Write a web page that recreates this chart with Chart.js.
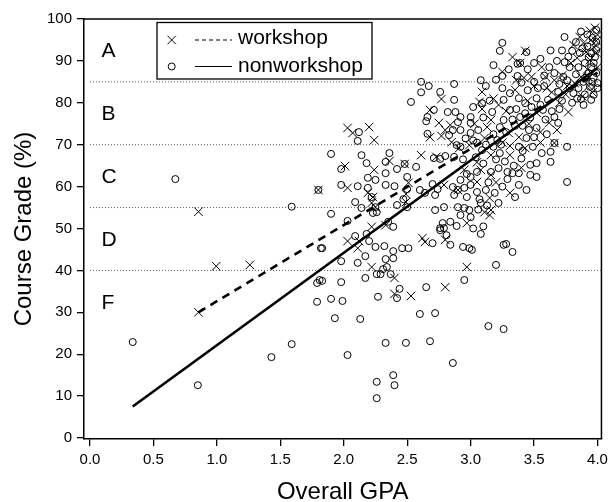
<!DOCTYPE html>
<html>
<head>
<meta charset="utf-8">
<script src="https://cdn.jsdelivr.net/npm/chart.js@4"></script>
<style>
html,body{margin:0;padding:0;background:#fff;}
#wrap{width:613px;height:502px;position:relative;}
</style>
</head>
<body>
<div id="wrap"><canvas id="c"></canvas></div>
<script>
// ---------- DATA ----------
const xTickValues = [0.0,0.5,1.0,1.5,2.0,2.5,3.0,3.5,4.0];
const yTickValues = [0,10,20,30,40,50,60,70,80,90,100];
const gradeCutoffs = [85,70,55,40];
const gradeLetters = ['A','B','C','D','F'];
const seriesNames = ['workshop','nonworkshop'];

// [GPA, course grade %]
const workshopPoints = [
[0.855,30],[0.855,54],[0.995,41],[1.26,41.3],[1.80,59.2],[2.77,80.9],[2.68,78.3],[2.75,75.2],[2.84,74.7],[2.80,73.5],
[2.68,71.8],[2.77,72.1],[2.03,74.0],[2.07,72.8],[2.20,74.2],[2.24,71.1],[2.85,70.6],[2.36,66.1],[2.61,67.5],[2.73,67.1],
[2.91,69.2],[2.48,65.4],[2.01,64.9],[2.24,64.0],[2.03,59.7],[2.51,60.9],[2.19,58.5],[2.79,60.4],[2.90,59.2],[2.23,57.5],
[2.49,58.2],[2.22,56.1],[2.25,55.1],[2.49,56.3],[2.22,50.4],[2.33,50.8],[2.03,47.0],[2.12,47.0],[2.11,45.3],[2.22,40.8],
[2.40,38.2],[2.40,34.4],[2.53,33.9],[2.80,36.0],[2.62,47.7],[2.64,46.8],[2.80,47.3],[2.97,40.8],[2.97,51.3],[3.15,53.2],
[3.33,90.9],[3.43,92.4],[3.39,89.5],[3.56,88.5],[3.25,87.4],[3.36,85.4],[3.48,86.2],[3.59,86.2],[3.66,85.4],[3.81,93.8],
[3.86,95.7],[3.89,94.3],[3.09,82.6],[3.35,83.1],[3.07,80.2],[3.60,83.5],[3.09,78.5],[3.16,75.9],[3.52,77.6],[3.62,75.2],
[3.77,77.8],[3.13,74.2],[3.30,72.8],[3.38,71.8],[3.11,71.6],[3.66,70.4],[3.43,69.2],[3.31,69.7],[2.99,69.9],[3.16,67.5],
[3.31,67.5],[3.16,62.8],[3.05,61.1],[3.31,58.5],[3.15,57.3],[3.11,53.9],[3.16,54.4],[3.87,86.2],[3.94,90.2],[3.97,93.3],
[4.00,96.2],[3.98,97.9],[3.84,90.7],[3.91,92.1],[4.00,88.5],[3.82,84.7],[3.95,95.0],[3.99,92.0],[3.93,84.0],[3.75,82.0],
[3.70,80.0],[3.45,80.5],[3.28,78.0],[3.55,73.0],[3.05,65.8],[2.95,64.0],[3.40,64.5],
[3.03,75.0],[3.18,81.0],[3.22,79.5],[3.42,86.0],[3.50,84.0],[3.64,82.5],[3.72,86.5],[3.79,89.5],[3.92,88.0],[3.96,82.5],
[3.88,81.5],[3.46,75.0],[3.25,70.5],[3.08,64.0],[3.20,61.0],[3.55,70.5],[3.68,73.5],[3.99,94.8],[3.94,97.2],[3.76,84.0]
];

const nonworkshopPoints = [
[0.337,22.9],[0.673,61.8],[0.85,12.6],[1.43,19.3],[1.59,55.2],[1.59,22.4],[1.80,59.2],[1.82,45.3],[1.79,37.0],[1.81,37.7],
[1.79,32.5],[2.61,85.0],[2.67,84.0],[2.61,82.5],[2.87,84.5],[2.76,82.6],[2.87,80.7],[2.53,80.2],[2.71,78.3],[2.82,77.8],
[2.88,77.8],[2.66,76.6],[2.65,75.6],[2.90,75.4],[2.86,73.5],[2.66,72.6],[2.83,72.3],[2.12,73.0],[2.11,70.9],[2.89,69.9],
[1.90,67.8],[2.14,67.5],[2.36,68.0],[2.33,65.9],[2.71,66.8],[2.80,67.3],[2.76,66.6],[2.87,67.1],[2.57,64.7],[2.48,65.4],
[2.42,64.2],[1.98,64.2],[2.18,65.6],[2.33,63.2],[2.19,62.1],[2.25,61.6],[2.50,62.3],[1.98,60.4],[2.11,60.1],[2.33,60.4],
[2.40,60.1],[2.50,59.4],[2.19,59.7],[2.60,59.2],[2.64,58.5],[2.70,60.6],[2.74,59.4],[2.86,59.9],[2.90,59.2],[2.87,58.0],
[2.22,57.5],[2.72,58.0],[2.47,57.0],[2.09,56.3],[2.14,54.9],[2.25,55.1],[2.42,55.6],[2.50,55.1],[2.23,53.7],[2.26,53.9],
[2.72,54.4],[2.79,55.1],[2.90,55.1],[1.90,53.5],[2.03,51.8],[2.35,51.6],[2.39,50.4],[2.78,51.3],[2.84,51.6],[2.89,50.6],
[2.76,50.1],[2.09,48.2],[2.18,48.7],[2.20,47.0],[2.25,45.6],[1.83,45.3],[2.32,45.8],[2.39,44.6],[2.46,45.3],[2.51,45.3],
[2.17,43.4],[2.39,42.9],[2.33,42.7],[1.98,42.2],[2.11,41.8],[2.34,40.8],[2.31,40.3],[2.26,39.1],[2.29,39.1],[2.37,39.1],
[2.17,38.2],[1.98,37.2],[1.83,37.5],[2.44,35.6],[2.42,33.4],[2.27,33.7],[2.65,36.0],[1.90,33.2],[1.99,32.7],[1.93,28.6],
[2.13,28.4],[2.60,29.6],[2.72,29.8],[2.33,22.7],[2.49,22.7],[2.68,23.1],[2.03,19.8],[2.86,17.9],[2.39,15.0],[2.26,13.4],
[2.40,12.6],[2.26,9.5],[2.70,46.5],[2.76,49.6],[2.79,50.1],[2.81,48.4],[2.84,46.1],[2.94,45.6],[3.08,48.7],[2.99,45.3],
[3.01,44.9],[3.26,46.1],[3.28,46.3],[3.33,44.4],[3.20,41.3],[2.95,37.7],[3.14,26.7],[3.26,26.0],[3.76,61.1],[3.74,95.7],
[3.25,94.3],[3.23,92.4],[3.44,92.1],[3.39,89.5],[3.37,89.3],[3.50,89.5],[3.25,86.4],[3.37,86.4],[3.08,85.4],[3.50,85.0],
[3.66,87.1],[3.74,89.7],[3.78,88.5],[3.73,86.2],[3.80,92.4],[3.25,83.5],[3.31,82.3],[3.09,79.9],[3.26,80.7],[3.38,81.1],
[3.43,79.9],[3.52,81.1],[3.61,80.7],[3.69,82.6],[3.00,76.6],[3.17,77.8],[3.31,78.3],[3.26,75.9],[3.39,76.6],[3.57,78.3],
[3.69,75.2],[3.66,76.6],[2.92,76.6],[3.00,75.2],[3.23,74.2],[2.92,73.5],[3.00,72.8],[3.46,73.5],[3.52,74.0],[3.44,71.6],
[3.50,71.8],[3.21,71.1],[3.66,70.4],[3.63,68.3],[3.76,69.5],[3.56,68.0],[3.38,69.5],[2.92,69.5],[3.09,68.7],[3.23,68.0],
[3.63,65.9],[3.47,65.2],[3.52,65.6],[3.47,62.8],[3.52,62.3],[3.38,63.2],[3.29,63.5],[3.33,63.2],[3.29,61.8],[3.38,60.4],
[3.44,59.2],[3.16,63.5],[3.22,64.4],[3.05,63.5],[3.00,62.3],[2.92,61.6],[2.95,59.7],[3.00,60.4],[3.12,59.2],[3.05,58.7],
[3.22,56.1],[3.08,56.1],[2.95,54.9],[2.99,54.4],[3.00,52.7],[2.92,53.2],[3.89,79.5],[3.87,80.9],[3.95,80.7],[3.97,81.9],
[3.94,83.8],[3.81,82.3],[3.85,83.5],[3.89,85.0],[3.93,87.1],[3.76,85.4],[3.85,88.5],[3.90,89.5],[3.98,90.9],[3.99,92.6],
[3.99,94.5],[3.99,97.4],[3.93,90.9],[3.86,91.9],[3.95,88.5],[3.99,87.1],[4.00,84.7],[4.00,83.5],[3.96,95.5],[3.92,96.3],
[3.88,93.0],[3.97,86.0],[3.90,82.0],[3.83,86.8],[3.70,84.5],[3.58,84.0],[3.45,83.0],[3.40,84.8],[3.55,79.5],[3.47,76.5],
[3.35,74.5],[3.18,72.5],[3.60,72.5],[3.70,78.5],[3.80,80.0],[3.15,80.5],[3.20,85.5],[3.55,90.5],[3.63,92.5],[3.05,70.5],
[3.27,66.0],[3.10,65.5],[3.40,66.7],[2.97,57.5],[3.02,50.0],[3.10,50.5],
[3.02,71.0],[3.04,67.0],[3.06,73.5],[3.10,76.5],[3.12,70.0],[3.14,61.0],[3.18,69.5],[3.20,66.5],[3.24,70.0],[3.28,73.0],
[3.33,76.0],[3.36,78.5],[3.41,74.5],[3.43,77.5],[3.48,79.0],[3.53,83.5],[3.58,86.5],[3.62,88.5],[3.68,90.0],[3.72,92.5],
[3.77,91.0],[3.83,94.5],[3.87,97.0],[3.92,93.5],[3.95,91.8],[3.97,89.5],[3.96,85.0],[3.91,86.0],[3.84,81.0],[3.78,83.5],
[3.72,80.5],[3.64,78.0],[3.59,76.0],[3.49,69.5],[3.41,68.5],[3.34,65.0],[3.25,60.0],[3.19,58.5],[3.13,55.5],[3.06,54.5],
[2.97,63.0],[2.94,66.5],[2.96,71.5],[3.02,79.0],[3.12,84.0],[3.18,89.0],[3.30,88.0],[3.45,88.0],[3.07,57.0],[3.35,57.5]
];

// fitted lines: [GPA, grade] end points
const workshopFit = [[0.855,30.0],[4.0,87.2]];
const nonworkshopFit = [[0.337,7.5],[4.0,88.3]];

// ---------- CHART ----------
const FONT = "'Liberation Sans', Arial, Helvetica, sans-serif";
const toXY = arr => arr.map(p => ({x:p[0], y:p[1]}));
const X_MIN = -0.047, X_MAX = 4.031, Y_MIN = -0.24, Y_MAX = 100;

const cutoffDatasets = gradeCutoffs.map(c => ({
  type:'scatter', data:[{x:0,y:c},{x:X_MAX,y:c}], showLine:true,
  borderColor:'#555', borderWidth:1, borderDash:[1,2], pointRadius:0, order:5
}));

const framePlugin = {
  id:'frame',
  afterDatasetsDraw(chart){
    const {ctx, chartArea:a, scales} = chart;
    ctx.save();
    // letters
    ctx.fillStyle = '#000';
    ctx.font = '21px ' + FONT;
    ctx.textAlign = 'left';
    ctx.textBaseline = 'middle';
    const bands = [100].concat(gradeCutoffs).concat([25]);
    gradeLetters.forEach((L,i) => {
      const mid = (bands[i] + bands[i+1]) / 2;
      ctx.fillText(L, scales.x.getPixelForValue(0.09), scales.y.getPixelForValue(mid) + 1);
    });
    // top/right frame
    ctx.strokeStyle = '#000';
    ctx.lineWidth = 1.5;
    ctx.beginPath();
    ctx.moveTo(a.left, a.top); ctx.lineTo(a.right, a.top); ctx.lineTo(a.right, a.bottom);
    ctx.stroke();
    // legend
    const L0 = a.left + 73, T0 = a.top + 3.5, W = 215, H = 56.5;
    ctx.fillStyle = '#fff';
    ctx.fillRect(L0, T0, W, H);
    ctx.lineWidth = 1.3;
    ctx.strokeRect(L0, T0, W, H);
    const rows = [T0 + 17.5, T0 + 44];
    ctx.lineWidth = 1;
    const cx = L0 + 14.7;
    const r = 4.2;
    ctx.beginPath();
    ctx.moveTo(cx - r, rows[0] - r); ctx.lineTo(cx + r, rows[0] + r);
    ctx.moveTo(cx - r, rows[0] + r); ctx.lineTo(cx + r, rows[0] - r);
    ctx.stroke();
    ctx.beginPath();
    ctx.arc(cx, rows[1], 3.5, 0, Math.PI*2);
    ctx.stroke();
    ctx.lineWidth = 1.2;
    ctx.setLineDash([4,3]);
    ctx.beginPath(); ctx.moveTo(L0 + 38, rows[0]); ctx.lineTo(L0 + 75, rows[0]); ctx.stroke();
    ctx.setLineDash([]);
    ctx.beginPath(); ctx.moveTo(L0 + 38, rows[1]); ctx.lineTo(L0 + 75, rows[1]); ctx.stroke();
    ctx.fillStyle = '#000';
    ctx.font = '21px ' + FONT;
    ctx.textAlign = 'left';
    ctx.textBaseline = 'alphabetic';
    ctx.fillText(seriesNames[0], L0 + 81, rows[0] + 4);
    ctx.fillText(seriesNames[1], L0 + 81, rows[1] + 5.5);
    ctx.restore();
  }
};

const tickOpts = {color:'#000', font:{family:FONT, size:15}};

new Chart(document.getElementById('c'), {
  type:'scatter',
  data:{
    datasets:[
      {label:seriesNames[0], data:toXY(workshopPoints), pointStyle:'crossRot', pointRadius:6,
       borderColor:'#000', backgroundColor:'#000', pointBorderWidth:1, order:2},
      {label:seriesNames[1], data:toXY(nonworkshopPoints), pointStyle:'circle', pointRadius:3.5,
       borderColor:'#000', backgroundColor:'rgba(0,0,0,0)', pointBorderWidth:1, order:3},
      {label:'workshop fit', data:toXY(workshopFit), showLine:true, borderColor:'#000', borderWidth:2.6,
       borderDash:[8,6], pointRadius:0, order:1},
      {label:'nonworkshop fit', data:toXY(nonworkshopFit), showLine:true, borderColor:'#000', borderWidth:2.6,
       pointRadius:0, order:0},
      ...cutoffDatasets
    ]
  },
  options:{
    responsive:true, maintainAspectRatio:false, animation:false,
    layout:{padding:{top:19, right:8, left:0, bottom:0}},
    plugins:{legend:{display:false}, tooltip:{enabled:false}},
    scales:{
      x:{
        type:'linear', min:X_MIN, max:X_MAX,
        afterBuildTicks: s => { s.ticks = xTickValues.map(v => ({value:v})); },
        afterFit: s => { s.height = 63; },
        ticks:{...tickOpts, autoSkip:false, maxRotation:0, padding:5, callback: v => Number(v).toFixed(1)},
        grid:{display:true, drawOnChartArea:false, drawTicks:true, tickLength:7, color:'#000', lineWidth:1.3},
        border:{display:true, color:'#000', width:1.5},
        title:{display:true, text:'Overall GPA', color:'#000', font:{family:FONT, size:24, lineHeight:1}, padding:{top:0, bottom:-2}}
      },
      y:{
        type:'linear', min:Y_MIN, max:Y_MAX,
        afterBuildTicks: s => { s.ticks = yTickValues.map(v => ({value:v})); },
        afterFit: s => { s.width = 84; },
        ticks:{...tickOpts, autoSkip:false, padding:5, callback: v => String(v)},
        grid:{display:true, drawOnChartArea:false, drawTicks:true, tickLength:7, color:'#000', lineWidth:1.3},
        border:{display:true, color:'#000', width:1.5},
        title:{display:true, text:'Course Grade (%)', color:'#000', font:{family:FONT, size:24, lineHeight:1}, padding:{top:12, bottom:0}}
      }
    }
  },
  plugins:[framePlugin]
});
</script>
</body>
</html>
